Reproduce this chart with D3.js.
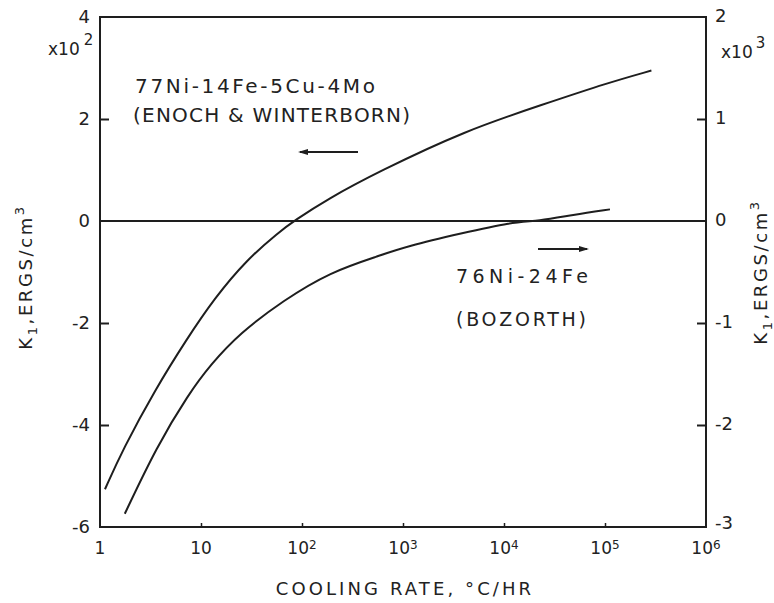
<!DOCTYPE html>
<html><head><meta charset="utf-8">
<script src="https://cdn.jsdelivr.net/npm/d3@7"></script>
<style>
html,body{margin:0;padding:0;background:#fff;}
svg text{font-family:"DejaVu Sans",sans-serif;fill:#222;}
</style></head>
<body>
<svg id="chart" width="774" height="603"></svg>
<script>
// ---- data ----
const xTicks = [1, 10, 100, 1e3, 1e4, 1e5, 1e6];
const xTickBase = ["1", "10", "10", "10", "10", "10", "10"];
const xTickExp = ["", "", "2", "3", "4", "5", "6"];
const leftTicks = [4, 2, 0, -2, -4, -6];
const rightTicks = [2, 1, 0, -1, -2, -3];
// 77Ni-14Fe-5Cu-4Mo (Enoch & Winterborn), left axis, x10^2 ergs/cm3
const enochRate = [1.12, 1.68, 3.53, 7.25, 13.4, 28.3, 59, 83, 181, 556, 4230, 24000, 107000, 288000];
const enochK1 = [-5.26, -4.48, -3.30, -2.31, -1.53, -0.76, -0.22, 0, 0.435, 0.955, 1.78, 2.28, 2.71, 2.95];
// 76Ni-24Fe (Bozorth), right axis, x10^3 ergs/cm3
const bozRate = [1.76, 3.65, 7.5, 12.4, 24.2, 65, 190, 585, 1080, 3820, 12000, 22000, 48000, 112000];
const bozK1 = [-2.87, -2.21, -1.70, -1.41, -1.10, -0.78, -0.50, -0.34, -0.25, -0.12, -0.01, 0, 0.06, 0.114];

// ---- layout ----
const svg = d3.select("#chart");
const L = 100, R = 706, T = 17, B = 527;
const ink = "#1e1e1e";
const x = d3.scaleLog().domain([1, 1e6]).range([L, R]);
const yL = d3.scaleLinear().domain([-6, 4]).range([B, T]);
const yR = d3.scaleLinear().domain([-3, 2]).range([B, T]);

// frame
svg.append("rect").attr("x", L).attr("y", T).attr("width", R - L).attr("height", B - T)
  .attr("fill", "none").attr("stroke", ink).attr("stroke-width", 2);

// zero line
svg.append("line").attr("x1", L).attr("x2", R).attr("y1", yL(0)).attr("y2", yL(0))
  .attr("stroke", ink).attr("stroke-width", 2);

// axes via d3 axis generators (tick marks inward)
const axL = d3.axisRight(yL).tickValues(leftTicks.filter(d => d > -6 && d < 4 && d !== 0)).tickSize(9).tickFormat("");
svg.append("g").attr("transform", `translate(${L},0)`).call(axL)
  .call(g => g.select(".domain").remove())
  .call(g => g.selectAll("line").attr("stroke", ink).attr("stroke-width", 2));
const axR = d3.axisLeft(yR).tickValues(rightTicks.filter(d => d > -3 && d < 2 && d !== 0)).tickSize(9).tickFormat("");
svg.append("g").attr("transform", `translate(${R},0)`).call(axR)
  .call(g => g.select(".domain").remove())
  .call(g => g.selectAll("line").attr("stroke", ink).attr("stroke-width", 2));
const axB = d3.axisTop(x).tickValues(xTicks.slice(1, -1)).tickSize(4).tickFormat("");
svg.append("g").attr("transform", `translate(0,${B})`).call(axB)
  .call(g => g.select(".domain").remove())
  .call(g => g.selectAll("line").attr("stroke", ink).attr("stroke-width", 1.5));

// left tick labels
svg.append("g").selectAll("text").data(leftTicks).join("text")
  .attr("x", 90).attr("y", d => yL(d)).attr("dy", "0.36em")
  .attr("text-anchor", "end").attr("font-size", 18)
  .text(d => d < 0 ? "-" + Math.abs(d) : String(d));
// right tick labels
svg.append("g").selectAll("text").data(rightTicks).join("text")
  .attr("x", R + 9).attr("y", d => yR(d) - (d === -3 ? 4 : 1)).attr("dy", "0.36em")
  .attr("text-anchor", "start").attr("font-size", 18)
  .text(d => d < 0 ? "-" + Math.abs(d) : String(d));

// multipliers
const mL = svg.append("text").attr("x", 48).attr("y", 55).attr("font-size", 17);
mL.append("tspan").text("x10");
mL.append("tspan").attr("dx", 4).attr("dy", -10).attr("font-size", 15).text("2");
const mR = svg.append("text").attr("x", 721).attr("y", 58).attr("font-size", 17);
mR.append("tspan").text("x10");
mR.append("tspan").attr("dx", 3).attr("dy", -10).attr("font-size", 15).text("3");

// x tick labels
const xl = svg.append("g").selectAll("text").data(xTicks).join("text")
  .attr("x", d => x(d)).attr("y", 554).attr("text-anchor", "middle").attr("font-size", 17);
xl.append("tspan").text((d, i) => xTickBase[i]);
xl.append("tspan").attr("dy", -5).attr("font-size", 12).text((d, i) => xTickExp[i]);

// axis titles
svg.append("text").attr("x", 405).attr("y", 595).attr("text-anchor", "middle")
  .attr("font-size", 18).attr("letter-spacing", 3.1).text("COOLING RATE, °C/HR");
function ytitle(cx, cy) {
  const t = svg.append("text").attr("transform", `translate(${cx},${cy}) rotate(-90)`)
    .attr("text-anchor", "middle").attr("font-size", 18).attr("letter-spacing", 2.6);
  t.append("tspan").text("K");
  t.append("tspan").attr("dy", 5).attr("font-size", 13).text("1");
  t.append("tspan").attr("dy", -5).text(",ERGS/cm");
  t.append("tspan").attr("dy", -8).attr("font-size", 13).text("3");
}
ytitle(32, 277);
ytitle(767, 272);

// curves
const lineL = d3.line().x(d => x(d[0])).y(d => yL(d[1])).curve(d3.curveBasis);
const lineR = d3.line().x(d => x(d[0])).y(d => yR(d[1])).curve(d3.curveBasis);
svg.append("path").datum(d3.zip(enochRate, enochK1)).attr("d", lineL)
  .attr("fill", "none").attr("stroke", ink).attr("stroke-width", 2);
svg.append("path").datum(d3.zip(bozRate, bozK1)).attr("d", lineR)
  .attr("fill", "none").attr("stroke", ink).attr("stroke-width", 2);

// annotations
svg.append("text").attr("x", 135).attr("y", 93).attr("font-size", 20)
  .attr("textLength", 240).attr("lengthAdjust", "spacing").text("77Ni-14Fe-5Cu-4Mo");
svg.append("text").attr("x", 133).attr("y", 122).attr("font-size", 20)
  .attr("textLength", 277).attr("lengthAdjust", "spacing").text("(ENOCH & WINTERBORN)");
svg.append("text").attr("x", 456).attr("y", 283).attr("font-size", 19)
  .attr("textLength", 132).attr("lengthAdjust", "spacing").text("76Ni-24Fe");
svg.append("text").attr("x", 456).attr("y", 326).attr("font-size", 19)
  .attr("textLength", 130).attr("lengthAdjust", "spacing").text("(BOZORTH)");

// arrows
svg.append("line").attr("x1", 300).attr("x2", 358).attr("y1", 152).attr("y2", 152)
  .attr("stroke", ink).attr("stroke-width", 2);
svg.append("path").attr("d", "M298,152 L308,149 L308,155 Z").attr("fill", ink);
svg.append("line").attr("x1", 538).attr("x2", 587).attr("y1", 249).attr("y2", 249)
  .attr("stroke", ink).attr("stroke-width", 2);
svg.append("path").attr("d", "M589,249 L579,246 L579,252 Z").attr("fill", ink);
</script>
</body></html>
